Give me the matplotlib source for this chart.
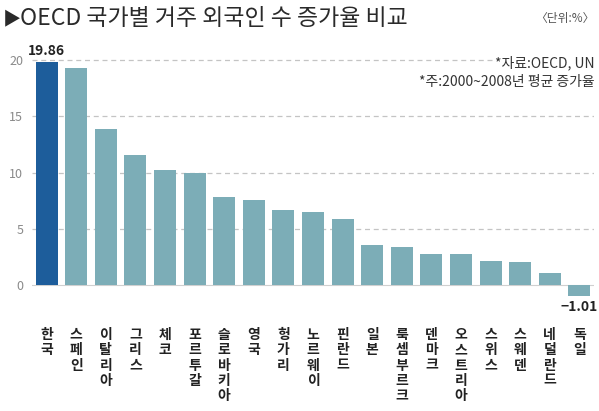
import matplotlib
matplotlib.use("Agg")
import matplotlib.pyplot as plt

plt.rcParams['font.family'] = ['Noto Sans CJK KR', 'DejaVu Sans']

# 국가별 외국인 수 증가율 (%)
countries = ['한국', '스페인', '이탈리아', '그리스', '체코', '포르투갈', '슬로바키아', '영국', '헝가리',
             '노르웨이', '핀란드', '일본', '룩셈부르크', '덴마크', '오스트리아', '스위스', '스웨덴', '네덜란드', '독일']
rates = [19.86, 19.3, 13.85, 11.6, 10.2, 9.97, 7.85, 7.6, 6.66,
         6.45, 5.9, 3.55, 3.4, 2.72, 2.72, 2.16, 2.04, 1.04, -1.01]
yticks = [0, 5, 10, 15, 20]

fig = plt.figure(figsize=(5.99, 4.11), dpi=100)
ax = fig.add_axes([0.053, 0.2655, 0.939, 0.6021])

colors = ['#1d5d9b'] + ['#7cadb7'] * (len(rates) - 1)
x = list(range(len(rates)))
ax.bar(x, rates, width=0.74, color=colors, zorder=3)

ax.set_xlim(-0.5, len(rates) - 0.5)
ax.set_ylim(-1.5, 20.5)
for y in yticks[1:]:
    ax.axhline(y, color='#c4c4c4', lw=0.9, ls=(0, (4, 3)), zorder=1)
ax.axhline(0, color='#d0d0d0', lw=0.8, zorder=2)

ax.set_xticks([])
ax.set_yticks(yticks)
ax.set_yticklabels([str(v) for v in yticks], color='#8a8a8a', fontsize=9)
ax.tick_params(axis='y', length=0, pad=6)
for s in ax.spines.values():
    s.set_visible(False)

# 국가명 (세로쓰기)
for i, name in enumerate(countries):
    ax.text(i, -0.105, '\n'.join(name), transform=ax.get_xaxis_transform(),
            ha='center', va='top', fontsize=10, fontweight='bold',
            color='#222222', linespacing=1.12)

ax.text(0, rates[0] + 0.35, '%.2f' % rates[0], ha='center', va='bottom',
        fontsize=10, fontweight='bold', color='#222222')
ax.text(len(rates) - 1, rates[-1] - 0.35, '−%.2f' % abs(rates[-1]), ha='center', va='top',
        fontsize=10, fontweight='bold', color='#222222')

fig.text(0.005, 0.953, '▶', ha='left', va='center', fontsize=13, color='#2a2a2a')
fig.text(0.034, 0.955, 'OECD 국가별 거주 외국인 수 증가율 비교', ha='left', va='center',
         fontsize=16.5, fontweight='medium', color='#2a2a2a')
fig.text(0.993, 0.955, '〈단위:%〉', ha='right', va='center', fontsize=8.5, color='#555555')
fig.text(0.993, 0.848, '*자료:OECD, UN', ha='right', va='center', fontsize=10, color='#333333',
         bbox=dict(facecolor='white', edgecolor='none', pad=1))
fig.text(0.993, 0.800, '*주:2000~2008년 평균 증가율', ha='right', va='center', fontsize=10,
         color='#333333')

fig.savefig('out.png', dpi=100)
